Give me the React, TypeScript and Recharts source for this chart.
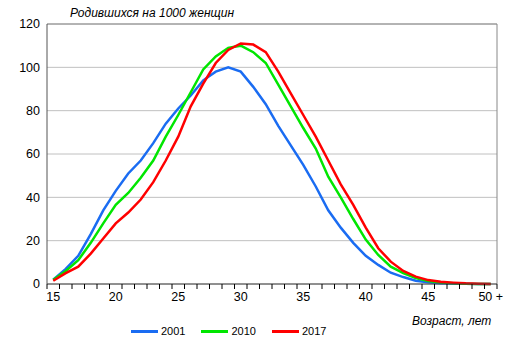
import React from 'react';
import {
  LineChart,
  Line,
  XAxis,
  YAxis,
  CartesianGrid,
  ReferenceLine,
  Legend,
} from 'recharts';

// Age groups (last one is "50 +")
const ages = [15, 16, 17, 18, 19, 20, 21, 22, 23, 24, 25, 26, 27, 28, 29, 30, 31, 32,
  33, 34, 35, 36, 37, 38, 39, 40, 41, 42, 43, 44, 45, 46, 47, 48, 49, 50];

// Births per 1000 women
const births2001 = [2, 7, 13, 23, 34, 43, 51, 57, 65, 74, 81, 87, 94, 98, 100, 98, 91, 83,
  73, 64, 55, 45, 34, 26, 19, 13, 8.8, 5.2, 3.2, 1.5, 0.8, 0.4, 0.2, 0.1, 0.05, 0];
const births2010 = [2, 6, 11, 19, 28, 36.5, 42, 49, 57, 68, 78, 88.5, 99, 105, 109, 110, 107, 102,
  92, 82, 72, 62.5, 49.5, 40, 30, 20.5, 13.4, 8, 5, 2.8, 1.4, 0.7, 0.3, 0.1, 0.05, 0];
const births2017 = [1.5, 5, 8, 14, 21, 28, 33, 39, 47, 57, 68, 82, 92.5, 102, 108, 111, 110.5, 107,
  98, 88, 78, 68, 57, 46, 36.5, 26, 16.5, 10.3, 6, 3.4, 1.8, 1, 0.6, 0.3, 0.15, 0.05];

const yTicks = [0, 20, 40, 60, 80, 100, 120];
const xLabelTicks = [15, 20, 25, 30, 35, 40, 45, 50];
const xMarkTicks = [14.5, 15.5, 16.5, 17.5, 18.5, 19.5, 20.5, 21.5, 22.5, 23.5, 24.5, 25.5,
  26.5, 27.5, 28.5, 29.5, 30.5, 31.5, 32.5, 33.5, 34.5, 35.5, 36.5, 37.5, 38.5, 39.5, 40.5,
  41.5, 42.5, 43.5, 44.5, 45.5, 46.5, 47.5, 48.5, 49.5, 50.5];

const data = ages.map((age, i) => ({
  age,
  y2001: births2001[i],
  y2010: births2010[i],
  y2017: births2017[i],
}));

const FONT = '"Liberation Sans", Arial, sans-serif';

const LegendContent = ({ payload }: any) => (
  <div style={{ display: 'flex', fontFamily: FONT, fontSize: 11, color: '#000' }}>
    {(payload || []).map((entry: any) => (
      <div key={entry.value} style={{ display: 'flex', alignItems: 'center', marginRight: 16 }}>
        <span style={{ display: 'inline-block', width: 27, height: 3, background: entry.color, marginRight: 3 }} />
        <span>{entry.value}</span>
      </div>
    ))}
  </div>
);

export default function App() {
  return (
    <div style={{ position: 'absolute', left: 0, top: 0, width: 512, height: 352, background: '#fff', fontFamily: FONT }}>
      <div style={{ position: 'absolute', left: 70, top: 6, fontSize: 12, fontStyle: 'italic', color: '#000' }}>
        Родившихся на 1000 женщин
      </div>
      <div style={{ position: 'absolute', left: 412, top: 314, fontSize: 12, fontStyle: 'italic', color: '#000' }}>
        Возраст, лет
      </div>
      <LineChart width={512} height={352} data={data} margin={{ top: 24, right: 15, left: 0, bottom: 42 }}>
        <CartesianGrid xAxisId="a_marks" horizontal vertical={false} stroke="#c0c0c0" />
        <XAxis
          xAxisId="a_marks"
          dataKey="age"
          type="number"
          domain={[14.5, 50.5]}
          ticks={xMarkTicks}
          interval={0}
          tickFormatter={() => ''}
          tickSize={5}
          tickLine={{ stroke: '#000' }}
          axisLine={{ stroke: '#404040' }}
          height={6}
        />
        <XAxis
          xAxisId="b_labels"
          dataKey="age"
          type="number"
          domain={[14.5, 50.5]}
          ticks={xLabelTicks}
          interval={0}
          axisLine={false}
          tickLine={false}
          tickSize={0}
          tickMargin={2}
          tick={{ fill: '#000', fontSize: 12.5, fontFamily: FONT }}
          tickFormatter={(v) => (v === 50 ? '50 +' : String(v))}
          height={20}
        />
        <YAxis
          domain={[0, 120]}
          ticks={yTicks}
          interval={0}
          width={47}
          tickLine={false}
          tickSize={0}
          tickMargin={7}
          axisLine={{ stroke: '#555' }}
          tick={{ fill: '#000', fontSize: 12.5, fontFamily: FONT }}
        />
        <ReferenceLine y={120} xAxisId="a_marks" stroke="#888" />
        <ReferenceLine x={50.5} xAxisId="a_marks" stroke="#888" />
        <Legend
          layout="horizontal"
          verticalAlign="middle"
          align="center"
          content={<LegendContent />}
          wrapperStyle={{ left: 131, top: 325, width: 240 }}
        />
        <Line xAxisId="a_marks" type="linear" dataKey="y2001" name="2001" stroke="#1a6cf2" strokeWidth={2.5} dot={false} isAnimationActive={false} />
        <Line xAxisId="a_marks" type="linear" dataKey="y2010" name="2010" stroke="#00e600" strokeWidth={2.5} dot={false} isAnimationActive={false} />
        <Line xAxisId="a_marks" type="linear" dataKey="y2017" name="2017" stroke="#ff0000" strokeWidth={2.5} dot={false} isAnimationActive={false} />
      </LineChart>
    </div>
  );
}
